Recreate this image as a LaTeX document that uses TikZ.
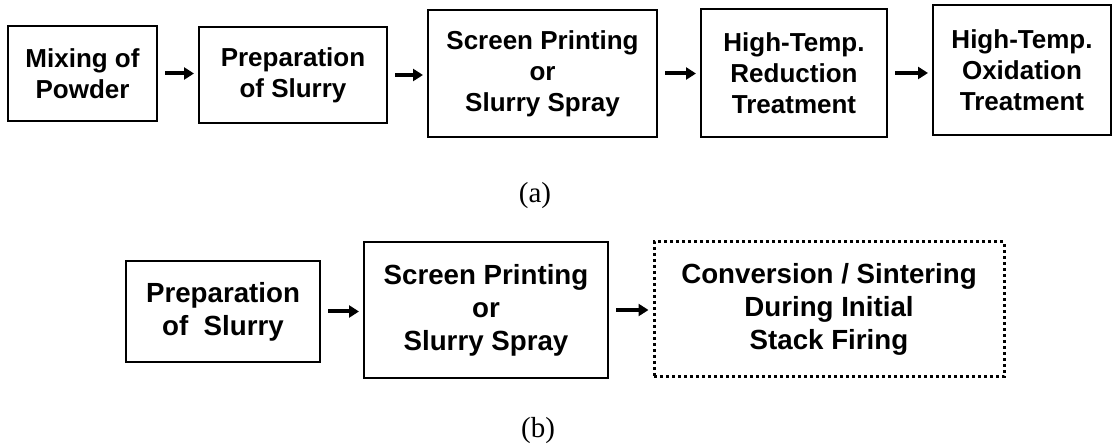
\documentclass[tikz,border=0pt]{standalone}
\usepackage{fontspec}
\setmainfont{Liberation Sans}
\newfontfamily\labelfont{Liberation Serif}
\usetikzlibrary{arrows.meta}
\begin{document}
\begin{tikzpicture}[x=1pt,y=-1pt,
  stepbox/.style={draw=black, line width=2pt, align=center, inner sep=0pt,
    font=\fontsize{26}{31}\selectfont\bfseries},
  bigbox/.style={stepbox, font=\fontsize{27.7}{33}\selectfont\bfseries},
  dottedbox/.style={bigbox, line width=3pt, dash pattern=on 3pt off 3pt},
  flow/.style={line width=4pt, -{Triangle[length=10pt,width=12pt]}},
  caption/.style={inner sep=0pt, font=\labelfont\fontsize{29}{32}\selectfont}
]
\useasboundingbox (0,0) rectangle (1112,446);

% (a) conventional route
\node[stepbox, minimum width=149pt, minimum height=95pt]  (a1) at (82.5,73.5) {Mixing of\\Powder};
\node[stepbox, minimum width=188pt, minimum height=96pt]  (a2) at (293,75)    {Preparation\\of Slurry};
\node[stepbox, minimum width=229pt, minimum height=127pt] (a3) at (542.5,73.5){Screen Printing\\or\\Slurry Spray};
\node[stepbox, minimum width=186pt, minimum height=128pt] (a4) at (794,73)    {High-Temp.\\Reduction\\Treatment};
\node[stepbox, minimum width=178pt, minimum height=130pt] (a5) at (1022,70)   {High-Temp.\\Oxidation\\Treatment};

\foreach \s/\t in {a1/a2, a2/a3, a3/a4, a4/a5}
  \draw[flow] ([xshift=7pt]\s.east) -- ([xshift=-4pt]\s.east -| \t.west);

\node[caption] (capa) at (535,196) {(a)};

% (b) simplified route
\node[bigbox, minimum width=194pt, minimum height=101pt] (b1) at (223,311.5) {Preparation\\of\ \ Slurry};
\node[bigbox, minimum width=244pt, minimum height=136pt] (b2) at (486,310)   {Screen Printing\\or\\Slurry Spray};
\node[dottedbox, minimum width=350pt, minimum height=135pt] (b3) at (829,309.5) {Conversion / Sintering\\During Initial\\Stack Firing};

\foreach \s/\t in {b1/b2, b2/b3}
  \draw[flow] ([xshift=7pt]\s.east) -- ([xshift=-4pt]\s.east -| \t.west);

\node[caption] (capb) at (538,431) {(b)};
\end{tikzpicture}
\end{document}
